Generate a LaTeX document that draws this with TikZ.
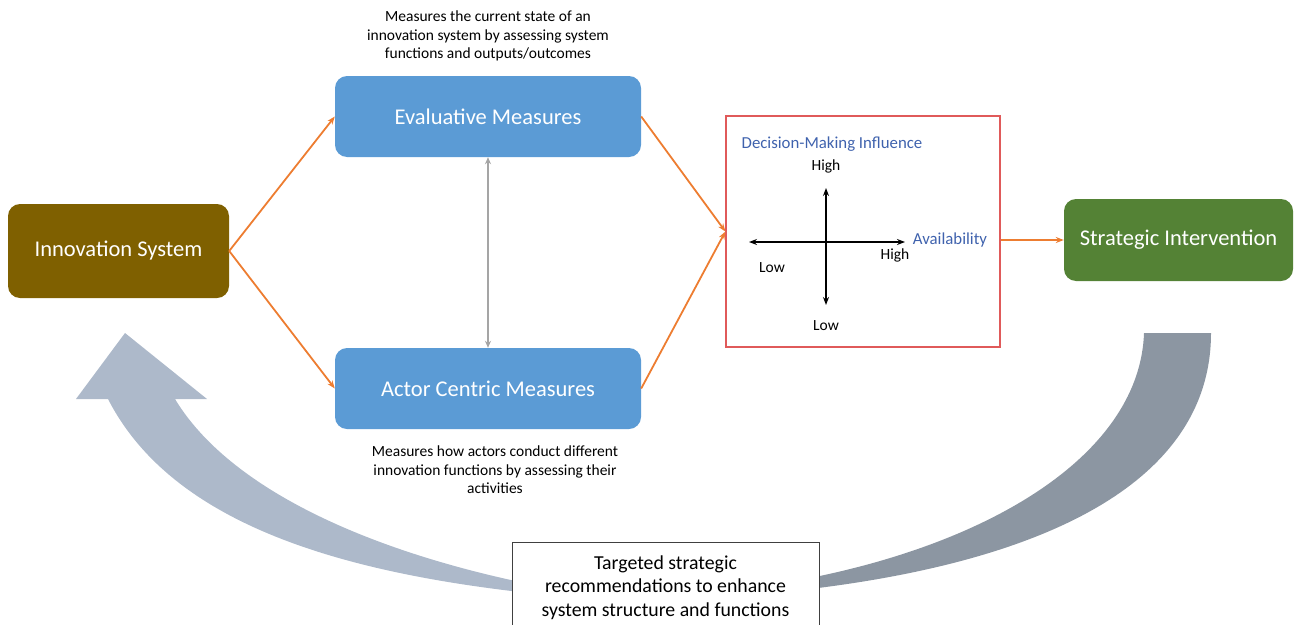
\documentclass[tikz,border=0pt]{standalone}
\usepackage{fontspec}
\setmainfont{Carlito}
\usetikzlibrary{arrows.meta, positioning}

\definecolor{innobrown}{HTML}{7F6000}
\definecolor{measblue}{HTML}{5B9BD5}
\definecolor{stratgreen}{HTML}{548235}
\definecolor{floworange}{HTML}{ED7D31}
\definecolor{linkgray}{HTML}{A5A5A5}
\definecolor{quadred}{HTML}{E05A5A}
\definecolor{axisblue}{HTML}{3F62AD}
\definecolor{loopleft}{HTML}{ADB9CA}
\definecolor{loopright}{HTML}{8C96A2}

\tikzset{
    mainbox/.style={rounded corners=12, inner sep=0, text=white,
        font=\fontsize{22.5}{27}\selectfont},
    note/.style={align=center, inner sep=0, font=\fontsize{15.5}{18.5}\selectfont},
    flow/.style={floworange, line width=1.8pt, -{Stealth[length=8pt, width=6pt]}},
    axis/.style={black, line width=1.6pt, {Stealth[length=8pt, width=6pt]}-{Stealth[length=8pt, width=6pt]}},
    axislabel/.style={inner sep=0, font=\fontsize{15.5}{18}\selectfont},
}

\begin{document}
\begin{tikzpicture}[x=1pt, y=-1pt]

    \useasboundingbox (0, 0) rectangle (1296, 624);

    % Feedback loop arrows
    \fill[loopleft] (520, 592) .. controls (330, 570) and (170, 520) .. (108, 399)
        -- (76, 399) -- (125, 333) -- (207, 399) -- (175, 399)
        .. controls (230, 490) and (370, 550) .. (520, 582) -- cycle;
    \fill[loopright] (1144, 333) -- (1211, 333)
        .. controls (1211, 480) and (1050, 560) .. (810, 589)
        -- (810, 578) .. controls (1000, 540) and (1140, 450) .. (1144, 333) -- cycle;

    % Main boxes
    \node[mainbox, fill=innobrown, minimum width=221, minimum height=94] (inno) at (118.5, 251) {Innovation System};
    \node[mainbox, fill=measblue, minimum width=306, minimum height=81] (eval) at (488, 116.5) {Evaluative Measures};
    \node[mainbox, fill=measblue, minimum width=306, minimum height=81] (actor) at (488, 388.5) {Actor Centric Measures};
    \node[mainbox, fill=stratgreen, minimum width=229, minimum height=82] (strat) at (1178.5, 240) {Strategic Intervention};

    % Descriptions
    \node[note] (evaldesc) at (488, 36) {Measures the current state of an\\innovation system by assessing system\\functions and outputs/outcomes};
    \node[note] (actordesc) at (495, 470) {Measures how actors conduct different\\innovation functions by assessing their\\activities};

    % Decision quadrant
    \node[draw=quadred, line width=1.2pt, minimum width=274, minimum height=231, inner sep=0] (quad) at (863, 231.5) {};
    \node[axislabel, text=axisblue, font=\fontsize{16.8}{20}\selectfont] (dmi) at (832, 144) {Decision-Making Influence};
    \node[axislabel, text=axisblue, font=\fontsize{16.8}{20}\selectfont] (avail) at (950, 240) {Availability};

    \coordinate (vtop) at (826, 188);
    \coordinate (vbot) at (826, 305);
    \coordinate (hleft) at (749, 242);
    \coordinate (hright) at (905, 242);
    \draw[axis] (vtop) -- (vbot);
    \draw[axis] (hleft) -- (hright);

    \foreach \x/\y/\label in {
            826/166/High, % vertical top
            826/326/Low,  % vertical bottom
            772/268/Low,  % horizontal left
            895/255/High  % horizontal right
        } {
        \node[axislabel] at (\x, \y) {\label};
    }

    % Connectors
    \draw[flow] (inno.east) -- (eval.west);
    \draw[flow] (inno.east) -- (actor.west);
    \draw[flow] (eval.east) -- (quad.west);
    \draw[flow] (actor.east) -- (quad.west);
    \draw[flow] (quad.east |- avail.east) -- (strat.west);
    \draw[linkgray, line width=1.8pt, {Stealth[length=7pt, width=6pt]}-{Stealth[length=7pt, width=6pt]}] (eval.south) -- (actor.north);

    % Recommendation box
    \node[draw=black!75, fill=white, line width=0.8pt, anchor=north, minimum width=307, minimum height=110,
        align=center, inner sep=0, font=\fontsize{19.8}{23.5}\selectfont] (recom) at (665.5, 542)
        {Targeted strategic\\recommendations to enhance\\system structure and functions\\\mbox{}};

\end{tikzpicture}
\end{document}
